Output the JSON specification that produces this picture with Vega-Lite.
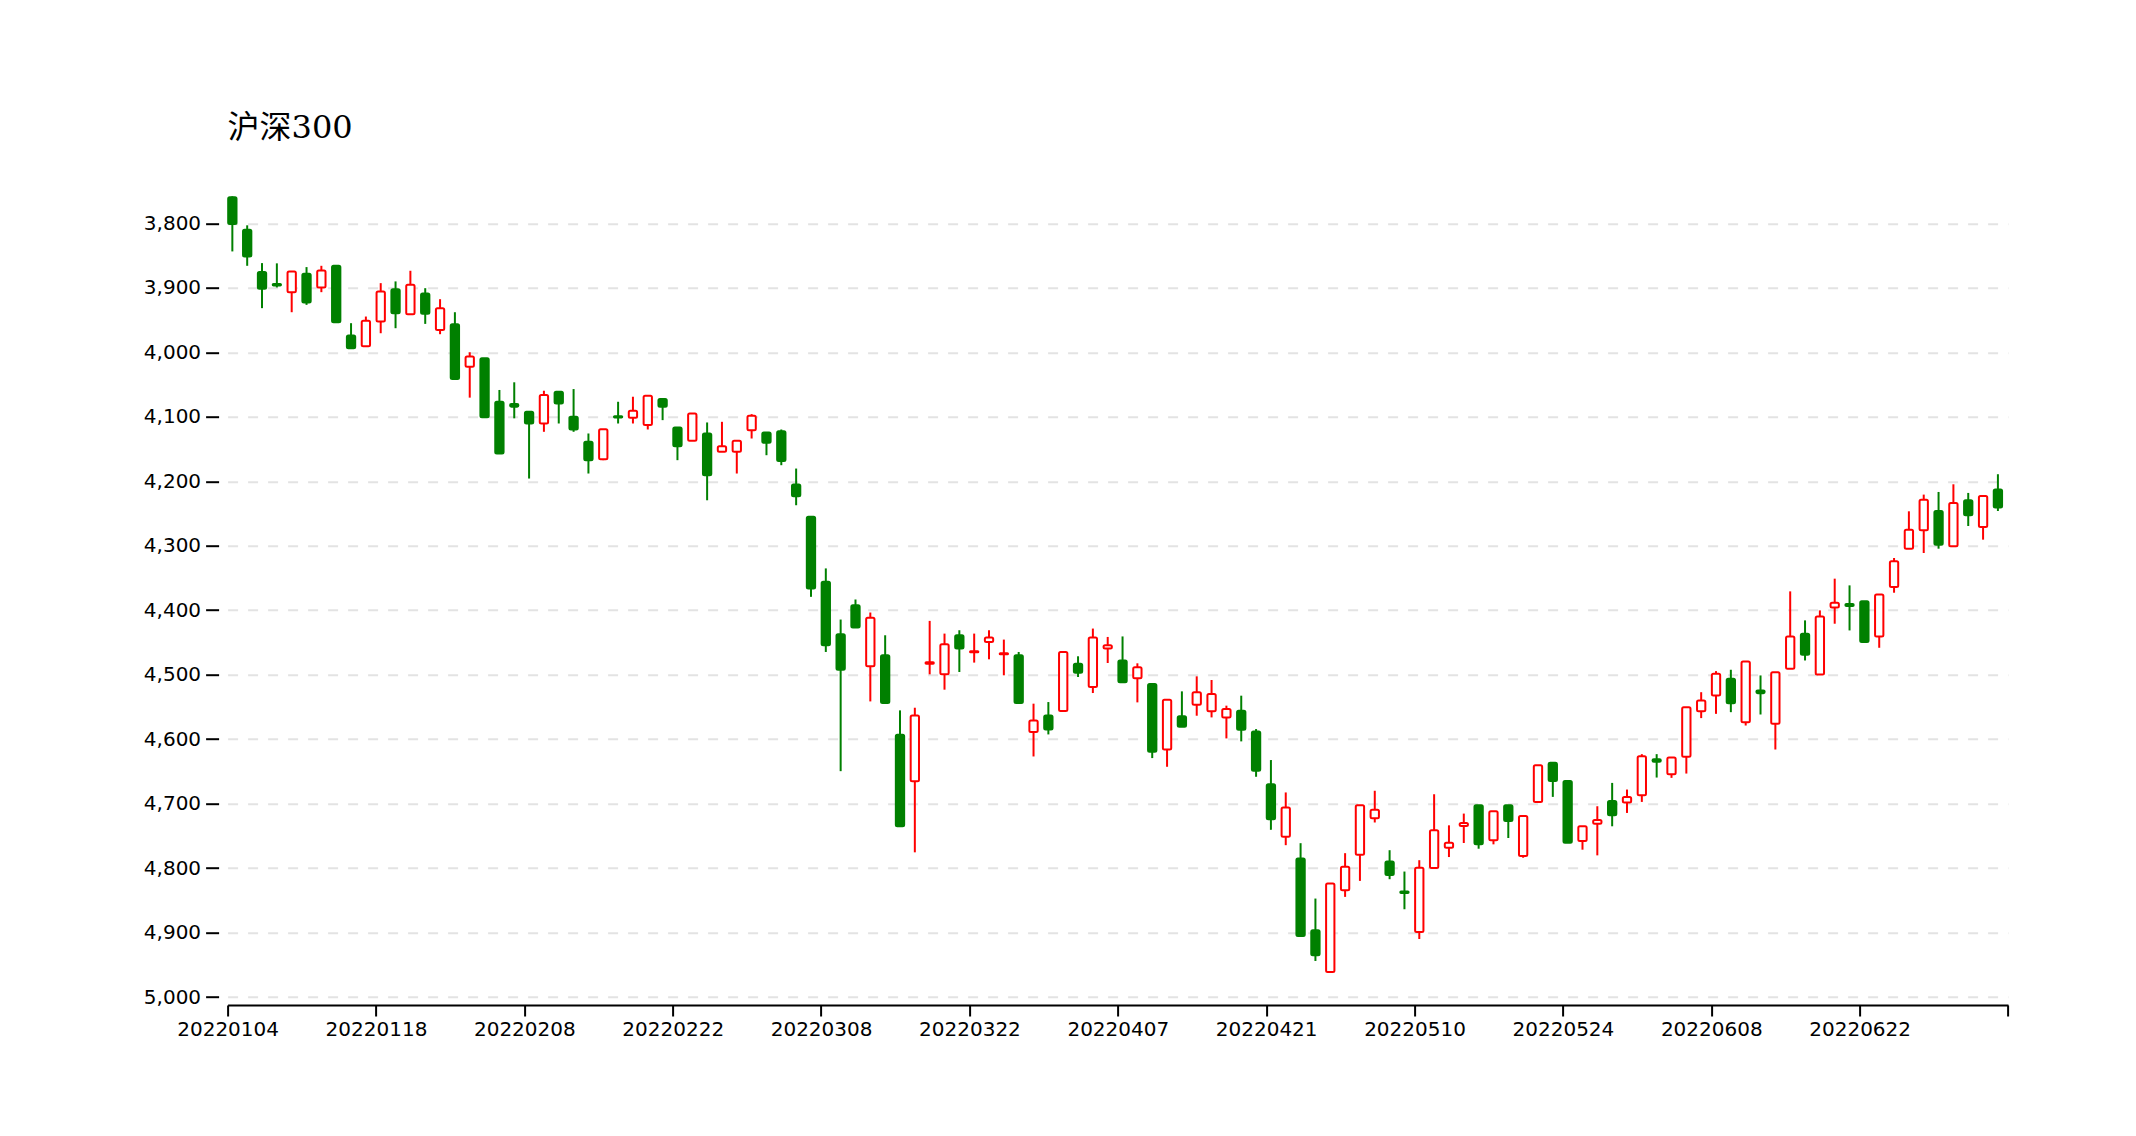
{
  "$schema": "https://vega.github.io/schema/vega-lite/v6.json",
  "autosize": {"type": "none"},
  "padding": {"left": 218.6, "top": 184.7, "right": 137, "bottom": 139},
  "width": 1780.4,
  "height": 812.3,
  "background": "white",
  "config": {"view": {"stroke": null}},
  "title": {"text": "沪深300", "anchor": "start", "frame": "group", "font": "DejaVu Serif, Noto Sans CJK SC", "fontSize": 32, "fontWeight": "normal", "color": "black", "dx": 9, "offset": 15, "baseline": "alphabetic"},
  "data": {"values": [
    {"d":"20220104","o":3759.6,"c":3801,"l":3758,"h":3843.5},
    {"d":"20220105","o":3809.8,"c":3851.3,"l":3803,"h":3865.8},
    {"d":"20220106","o":3875.6,"c":3901.5,"l":3861.6,"h":3931.5},
    {"d":"20220107","o":3894,"c":3896.5,"l":3862,"h":3899.4},
    {"d":"20220110","o":3906.7,"c":3874.6,"l":3874.6,"h":3937.8},
    {"d":"20220111","o":3878.2,"c":3922.7,"l":3867.8,"h":3926.4},
    {"d":"20220112","o":3899.4,"c":3873,"l":3865.8,"h":3906.7},
    {"d":"20220113","o":3865.8,"c":3953.3,"l":3865.8,"h":3953.3},
    {"d":"20220114","o":3974,"c":3993.7,"l":3954.8,"h":3993.7},
    {"d":"20220117","o":3990.6,"c":3951.2,"l":3944.5,"h":3990.6},
    {"d":"20220118","o":3952.3,"c":3905.6,"l":3892.7,"h":3970.4},
    {"d":"20220119","o":3902,"c":3939.3,"l":3890,"h":3962.6},
    {"d":"20220120","o":3940.9,"c":3895.3,"l":3873.5,"h":3940.9},
    {"d":"20220121","o":3908.8,"c":3940.3,"l":3900.5,"h":3955.9},
    {"d":"20220124","o":3965.2,"c":3931.5,"l":3917.6,"h":3971.9},
    {"d":"20220125","o":3956.4,"c":4041.3,"l":3937.8,"h":4041.3},
    {"d":"20220126","o":4022.2,"c":4006.6,"l":3999.9,"h":4070.3},
    {"d":"20220127","o":4009.2,"c":4100.9,"l":4009.2,"h":4100.9},
    {"d":"20220128","o":4076.5,"c":4156.8,"l":4058.4,"h":4156.8},
    {"d":"20220207","o":4080.2,"c":4084.3,"l":4046.5,"h":4102.4},
    {"d":"20220208","o":4092.2,"c":4110.4,"l":4092.2,"h":4195.8},
    {"d":"20220209","o":4110.4,"c":4066.3,"l":4059.6,"h":4123.3},
    {"d":"20220210","o":4061.2,"c":4079.3,"l":4061.2,"h":4110.4},
    {"d":"20220211","o":4100,"c":4119.7,"l":4057,"h":4123.3},
    {"d":"20220214","o":4138.8,"c":4167.3,"l":4125.9,"h":4188},
    {"d":"20220215","o":4165.8,"c":4119.2,"l":4119.2,"h":4167.3},
    {"d":"20220216","o":4099,"c":4101,"l":4076.7,"h":4110.4},
    {"d":"20220217","o":4101.6,"c":4090.7,"l":4068.9,"h":4110.4},
    {"d":"20220218","o":4112.9,"c":4067.4,"l":4067.4,"h":4119.7},
    {"d":"20220221","o":4072.6,"c":4084.5,"l":4072.6,"h":4105.2},
    {"d":"20220222","o":4116.6,"c":4145.6,"l":4116.6,"h":4167.3},
    {"d":"20220223","o":4137.3,"c":4094.8,"l":4094.8,"h":4137.3},
    {"d":"20220224","o":4125.9,"c":4190.6,"l":4108.8,"h":4229.5},
    {"d":"20220225","o":4154.4,"c":4145.6,"l":4107.8,"h":4154.4},
    {"d":"20220228","o":4154.4,"c":4137.3,"l":4137.3,"h":4188},
    {"d":"20220301","o":4120.7,"c":4098.4,"l":4095.9,"h":4133.7},
    {"d":"20220302","o":4124.3,"c":4140.4,"l":4124.3,"h":4159.6},
    {"d":"20220303","o":4122.3,"c":4168.4,"l":4119.7,"h":4175.1},
    {"d":"20220304","o":4205.1,"c":4223.3,"l":4180.3,"h":4237.2},
    {"d":"20220307","o":4254.9,"c":4366.3,"l":4254.9,"h":4379.3},
    {"d":"20220308","o":4356,"c":4454.4,"l":4335.2,"h":4464.8},
    {"d":"20220309","o":4437.3,"c":4492.2,"l":4414.5,"h":4649.7},
    {"d":"20220310","o":4392.2,"c":4426.9,"l":4383.4,"h":4426.9},
    {"d":"20220311","o":4487,"c":4411.9,"l":4403.6,"h":4541.5},
    {"d":"20220314","o":4470,"c":4544,"l":4438.9,"h":4544},
    {"d":"20220315","o":4593.3,"c":4735.2,"l":4555.4,"h":4735.2},
    {"d":"20220316","o":4665.3,"c":4563.2,"l":4551.3,"h":4775.6},
    {"d":"20220317","o":4483,"c":4480.7,"l":4416.6,"h":4499.5},
    {"d":"20220318","o":4499.5,"c":4452.8,"l":4436.3,"h":4523.3},
    {"d":"20220321","o":4438.9,"c":4459.6,"l":4431.1,"h":4495.9},
    {"d":"20220322","o":4465.3,"c":4463.7,"l":4436.3,"h":4481.3},
    {"d":"20220323","o":4449.2,"c":4442.5,"l":4431.1,"h":4476.2},
    {"d":"20220324","o":4468.5,"c":4466.8,"l":4445.6,"h":4501},
    {"d":"20220325","o":4470,"c":4544,"l":4464.8,"h":4544},
    {"d":"20220328","o":4589.1,"c":4571,"l":4545,"h":4626.9},
    {"d":"20220329","o":4563.2,"c":4585,"l":4542.5,"h":4592.7},
    {"d":"20220330","o":4556.5,"c":4464.8,"l":4464.8,"h":4556.5},
    {"d":"20220331","o":4482.9,"c":4496.9,"l":4471.5,"h":4503.6},
    {"d":"20220401","o":4519.2,"c":4442.5,"l":4428.5,"h":4528.5},
    {"d":"20220406","o":4459.6,"c":4454.4,"l":4441.5,"h":4481.9},
    {"d":"20220407","o":4478,"c":4511.6,"l":4440.7,"h":4511.6},
    {"d":"20220408","o":4505.7,"c":4488.6,"l":4482.4,"h":4543},
    {"d":"20220411","o":4514.5,"c":4619.6,"l":4514.5,"h":4629.4},
    {"d":"20220412","o":4615.9,"c":4538.8,"l":4538.8,"h":4642.9},
    {"d":"20220413","o":4564.7,"c":4580.7,"l":4525.9,"h":4580.7},
    {"d":"20220414","o":4546.6,"c":4527.4,"l":4502.6,"h":4563.7},
    {"d":"20220415","o":4556.9,"c":4530,"l":4508.3,"h":4566.3},
    {"d":"20220418","o":4566.3,"c":4553.3,"l":4548.1,"h":4598.9},
    {"d":"20220419","o":4555.9,"c":4585.4,"l":4532.6,"h":4603.5},
    {"d":"20220420","o":4588,"c":4649.1,"l":4584.4,"h":4658.4},
    {"d":"20220421","o":4669.8,"c":4724.1,"l":4632.5,"h":4740.7},
    {"d":"20220422","o":4751.6,"c":4706,"l":4682.7,"h":4764.5},
    {"d":"20220425","o":4785.2,"c":4905.3,"l":4761.4,"h":4905.3},
    {"d":"20220426","o":4896.5,"c":4935.3,"l":4847.3,"h":4944.1},
    {"d":"20220427","o":4961.2,"c":4824,"l":4824,"h":4961.2},
    {"d":"20220428","o":4834.4,"c":4798.1,"l":4776.9,"h":4844.7},
    {"d":"20220429","o":4779.5,"c":4702.4,"l":4702.4,"h":4819.9},
    {"d":"20220505","o":4722.6,"c":4709.6,"l":4680.1,"h":4729.3},
    {"d":"20220506","o":4789.9,"c":4810.6,"l":4772.3,"h":4817.3},
    {"d":"20220509","o":4836.3,"c":4838.5,"l":4805.4,"h":4863.9},
    {"d":"20220510","o":4899,"c":4799.5,"l":4787.8,"h":4910},
    {"d":"20220511","o":4800,"c":4741.5,"l":4685.5,"h":4800},
    {"d":"20220512","o":4768.4,"c":4760.6,"l":4733.7,"h":4782.9},
    {"d":"20220513","o":4734.7,"c":4730,"l":4715.5,"h":4761.1},
    {"d":"20220516","o":4702.6,"c":4763.2,"l":4702.6,"h":4770},
    {"d":"20220517","o":4757,"c":4711.9,"l":4711.9,"h":4763.2},
    {"d":"20220518","o":4702.6,"c":4727,"l":4702.6,"h":4753.4},
    {"d":"20220519","o":4781.3,"c":4719.2,"l":4719.2,"h":4784},
    {"d":"20220520","o":4697.4,"c":4640.4,"l":4640.4,"h":4697.4},
    {"d":"20220523","o":4636.8,"c":4664.8,"l":4636.8,"h":4689.6},
    {"d":"20220524","o":4664.8,"c":4760.6,"l":4664.8,"h":4760.6},
    {"d":"20220525","o":4758,"c":4735.2,"l":4735.2,"h":4771.5},
    {"d":"20220526","o":4731.1,"c":4725.4,"l":4704.1,"h":4780.3},
    {"d":"20220527","o":4695.9,"c":4718.1,"l":4667.9,"h":4735.2},
    {"d":"20220530","o":4698.4,"c":4689.6,"l":4678.2,"h":4714.5},
    {"d":"20220531","o":4687,"c":4626.4,"l":4623.3,"h":4697.4},
    {"d":"20220601","o":4631.1,"c":4635.2,"l":4623.3,"h":4659.6},
    {"d":"20220602","o":4654.4,"c":4628.5,"l":4628.5,"h":4660.1},
    {"d":"20220606","o":4627.5,"c":4550.5,"l":4550.5,"h":4653.4},
    {"d":"20220607","o":4556.8,"c":4539.9,"l":4527.2,"h":4567.4},
    {"d":"20220608","o":4532.3,"c":4498.7,"l":4494.5,"h":4560.8},
    {"d":"20220609","o":4506.4,"c":4544.2,"l":4492.4,"h":4558.2},
    {"d":"20220610","o":4573.7,"c":4479.5,"l":4479.5,"h":4578.9},
    {"d":"20220613","o":4524.5,"c":4528.7,"l":4501.2,"h":4561.8},
    {"d":"20220614","o":4576.3,"c":4496.1,"l":4496.1,"h":4616.1},
    {"d":"20220615","o":4490.9,"c":4440.7,"l":4370.8,"h":4490.9},
    {"d":"20220616","o":4436.5,"c":4469.2,"l":4415.8,"h":4478},
    {"d":"20220617","o":4499.7,"c":4409.6,"l":4400.3,"h":4499.7},
    {"d":"20220620","o":4395.7,"c":4388.4,"l":4351.1,"h":4421},
    {"d":"20220621","o":4390.5,"c":4393.6,"l":4361.5,"h":4431.4},
    {"d":"20220622","o":4386.3,"c":4449.5,"l":4386.3,"h":4449.5},
    {"d":"20220623","o":4440.7,"c":4375.5,"l":4375.5,"h":4458.3},
    {"d":"20220624","o":4364.1,"c":4324.2,"l":4319,"h":4372.9},
    {"d":"20220627","o":4304.6,"c":4275.1,"l":4246.6,"h":4304.6},
    {"d":"20220628","o":4276.1,"c":4228.5,"l":4220.7,"h":4311.3},
    {"d":"20220629","o":4246.1,"c":4298.3,"l":4216.6,"h":4304.6},
    {"d":"20220630","o":4300.9,"c":4233.6,"l":4204.7,"h":4300.9},
    {"d":"20220701","o":4229.5,"c":4252.8,"l":4218.1,"h":4269.4},
    {"d":"20220704","o":4270.9,"c":4222.8,"l":4222.8,"h":4290.6},
    {"d":"20220705","o":4212.9,"c":4240.9,"l":4189.1,"h":4246.1}
  ]},
  "transform": [
    {"window": [{"op": "row_number", "as": "rn"}]},
    {"calculate": "datum.rn - 0.96", "as": "x0"},
    {"calculate": "datum.rn - 0.40", "as": "x1"},
    {"calculate": "datum.rn - 0.68", "as": "xm"},
    {"calculate": "datum.c > datum.o ? 'up' : 'down'", "as": "dir"}
  ],
  "layer": [
    {
      "mark": {"type": "rule", "strokeWidth": 2},
      "encoding": {
        "x": {"field": "xm", "type": "quantitative",
          "scale": {"domain": [0, 120], "range": [9, 1789.4], "nice": false, "zero": false},
          "axis": {"values": [0,10,20,30,40,50,60,70,80,90,100,110,120],
            "labelExpr": "['20220104','20220118','20220208','20220222','20220308','20220322','20220407','20220421','20220510','20220524','20220608','20220622',''][round(datum.value/10)]",
            "title": null, "grid": false, "offset": 8, "domain": true, "domainColor": "black", "domainWidth": 2,
            "ticks": true, "tickColor": "black", "tickWidth": 2, "tickSize": 11,
            "labelFont": "DejaVu Sans", "labelFontSize": 20, "labelColor": "black", "labelPadding": 3, "labelFlush": false, "labelOverlap": false}},
        "y": {"field": "l", "type": "quantitative",
          "scale": {"domain": [3740, 5000], "reverse": true, "nice": false, "zero": false},
          "axis": {"values": [3800,3900,4000,4100,4200,4300,4400,4500,4600,4700,4800,4900,5000],
            "format": ",.0f", "title": null, "domain": false, "grid": true, "gridColor": "#e3e3e3", "gridWidth": 2, "gridDash": [10, 10],
            "ticks": true, "tickColor": "black", "tickWidth": 2, "tickSize": 13,
            "labelFont": "DejaVu Sans", "labelFontSize": 20, "labelColor": "black", "labelPadding": 5}},
        "y2": {"field": "h"},
        "stroke": {"field": "dir", "type": "nominal", "scale": {"domain": ["up", "down"], "range": ["#008000", "#ff0000"]}, "legend": null}
      }
    },
    {
      "mark": {"type": "bar", "strokeWidth": 2, "cornerRadius": 1.5},
      "encoding": {
        "x": {"field": "x0", "type": "quantitative"},
        "x2": {"field": "x1"},
        "y": {"field": "o", "type": "quantitative"},
        "y2": {"field": "c"},
        "fill": {"field": "dir", "type": "nominal", "scale": {"domain": ["up", "down"], "range": ["#008000", "#ffffff"]}, "legend": null},
        "stroke": {"field": "dir", "type": "nominal", "scale": {"domain": ["up", "down"], "range": ["#008000", "#ff0000"]}, "legend": null}
      }
    }
  ]
}
